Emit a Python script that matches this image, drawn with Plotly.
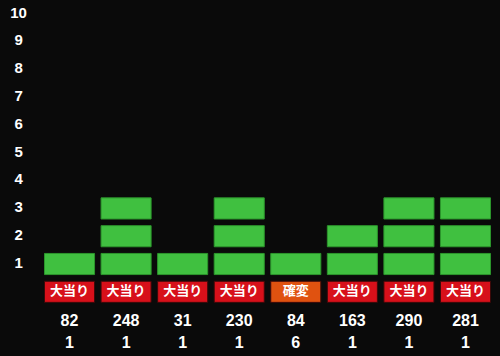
import plotly.graph_objects as go

columns = list(range(8))
counts = [1, 3, 1, 3, 1, 2, 3, 3]
kinds = ["大当り", "大当り", "大当り", "大当り", "確変", "大当り", "大当り", "大当り"]
games = [82, 248, 31, 230, 84, 163, 290, 281]
seconds = [1, 1, 1, 1, 6, 1, 1, 1]
y_ticks = list(range(1, 11))

BG = "rgb(10,10,10)"
GREEN = "rgb(64,192,64)"
GREEN_EDGE = "rgb(44,150,44)"
kind_colors = {"大当り": "rgb(215,16,26)", "確変": "rgb(224,82,16)"}

BLOCK_H = 0.76
BAR_W = 0.885
NUM_FONT = "Liberation Sans, Arial, sans-serif"

fig = go.Figure()

for k in range(1, max(counts) + 1):
    ys = [BLOCK_H if c >= k else None for c in counts]
    fig.add_trace(go.Bar(
        x=columns, y=ys, base=k - BLOCK_H / 2, width=BAR_W,
        marker=dict(color=GREEN, line=dict(color=GREEN_EDGE, width=1)),
        hoverinfo="skip", showlegend=False,
    ))

fig.add_trace(go.Bar(
    x=columns, y=[BLOCK_H] * len(columns), base=-BLOCK_H / 2, width=BAR_W,
    marker=dict(color=[kind_colors[k] for k in kinds], line=dict(color="rgb(60,10,10)", width=1)),
    hoverinfo="skip", showlegend=False,
))
fig.add_trace(go.Scatter(
    x=columns, y=[0] * len(columns), mode="text", text=kinds,
    textfont=dict(family="Noto Sans CJK JP", size=13, color="white", weight="bold"),
    hoverinfo="skip", showlegend=False,
))

fig.add_trace(go.Scatter(
    x=columns, y=[-1.07] * len(columns), mode="text",
    text=[str(g) for g in games],
    textfont=dict(family=NUM_FONT, size=16, color="white", weight="bold"),
    hoverinfo="skip", showlegend=False,
))
fig.add_trace(go.Scatter(
    x=columns, y=[-1.87] * len(columns), mode="text",
    text=[str(s) for s in seconds],
    textfont=dict(family=NUM_FONT, size=16, color="white", weight="bold"),
    hoverinfo="skip", showlegend=False,
))
fig.add_trace(go.Scatter(
    x=[-0.9] * len(y_ticks), y=y_ticks, mode="text",
    text=[str(t) for t in y_ticks],
    textfont=dict(family=NUM_FONT, size=15, color="white", weight="bold"),
    hoverinfo="skip", showlegend=False,
))

fig.update_layout(
    width=500, height=356,
    margin=dict(l=0, r=0, t=0, b=0),
    paper_bgcolor=BG, plot_bgcolor=BG,
    barmode="overlay",
    xaxis=dict(range=[-1.229, 7.61], visible=False, fixedrange=True),
    yaxis=dict(range=[-2.31, 10.5], visible=False, fixedrange=True),
)

fig.write_html(
    "out.html",
    config={"displayModeBar": False},
    post_script="document.body.style.margin='0';document.body.style.background='rgb(10,10,10)';",
)
